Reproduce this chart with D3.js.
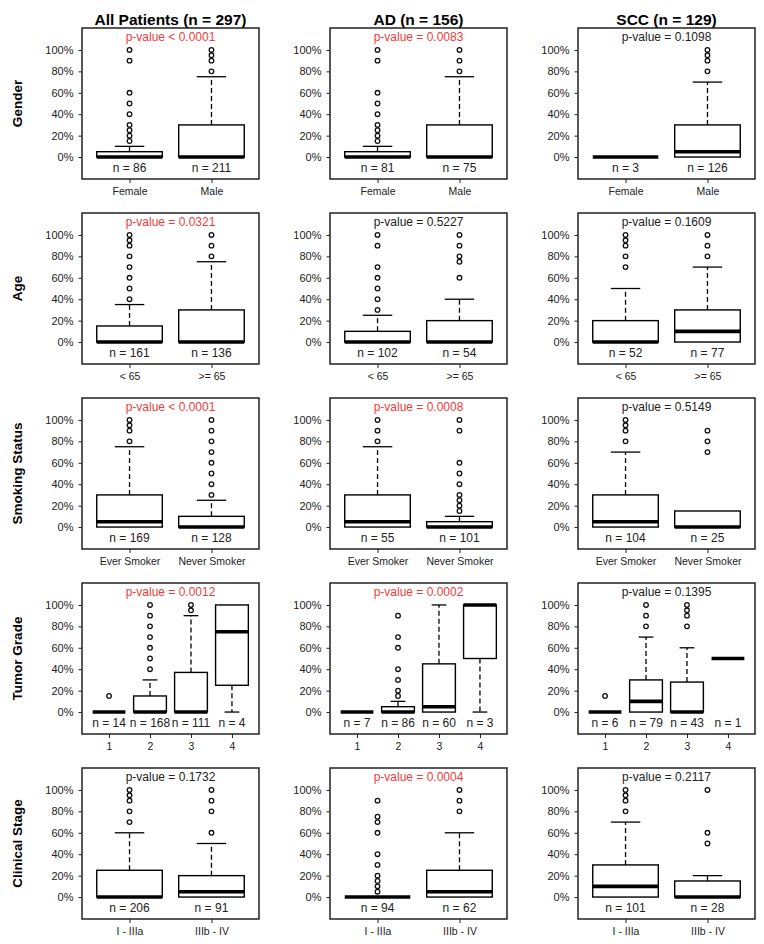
<!DOCTYPE html>
<html><head><meta charset="utf-8">
<script src="https://cdn.jsdelivr.net/npm/d3@7"></script>
<style>
html,body{margin:0;padding:0;background:#fff;}
svg text{font-family:"Liberation Sans",Arial,Helvetica,sans-serif;}
</style></head>
<body>
<svg id="chart" width="764" height="944"></svg>
<script>
// ---------- data ----------
const colTitles = ["All Patients (n = 297)", "AD (n = 156)", "SCC (n = 129)"];
const rowLabels = ["Gender", "Age", "Smoking Status", "Tumor Grade", "Clinical Stage"];
const categories = [
  ["Female", "Male"],
  ["< 65", ">= 65"],
  ["Ever Smoker", "Never Smoker"],
  ["1", "2", "3", "4"],
  ["I - IIIa", "IIIb - IV"]
];
const yTicks = [0, 20, 40, 60, 80, 100];

const pValues = [
  ["p-value < 0.0001", "p-value = 0.0083", "p-value = 0.1098"],
  ["p-value = 0.0321", "p-value = 0.5227", "p-value = 0.1609"],
  ["p-value < 0.0001", "p-value = 0.0008", "p-value = 0.5149"],
  ["p-value = 0.0012", "p-value = 0.0002", "p-value = 0.1395"],
  ["p-value = 0.1732", "p-value = 0.0004", "p-value = 0.2117"]
];
const pSignificant = [
  [true, true, false],
  [true, false, false],
  [true, true, false],
  [true, true, false],
  [false, true, false]
];
const nCounts = [
  [[86, 211], [81, 75], [3, 126]],
  [[161, 136], [102, 54], [52, 77]],
  [[169, 128], [55, 101], [104, 25]],
  [[14, 168, 111, 4], [7, 86, 60, 3], [6, 79, 43, 1]],
  [[206, 91], [94, 62], [101, 28]]
];
// [lower whisker, Q1, median, Q3, upper whisker] in %
const boxStats = [
  [ [[0,0,0,5,10],[0,0,0,30,75]], [[0,0,0,5,10],[0,0,0,30,75]], [[0,0,0,0,0],[0,0,5,30,70]] ],
  [ [[0,0,0,15,35],[0,0,0,30,75]], [[0,0,0,10,25],[0,0,0,20,40]], [[0,0,0,20,50],[0,0,10,30,70]] ],
  [ [[0,0,5,30,75],[0,0,0,10,25]], [[0,0,5,30,75],[0,0,0,5,10]], [[0,0,5,30,70],[0,0,0,15,15]] ],
  [ [[0,0,0,0,0],[0,0,0,15,30],[0,0,0,37,90],[0,25,75,100,100]],
    [[0,0,0,0,0],[0,0,0,5,10],[0,0,5,45,100],[0,50,100,100,100]],
    [[0,0,0,0,0],[0,0,10,30,70],[0,0,0,28,60],[50,50,50,50,50]] ],
  [ [[0,0,0,25,60],[0,0,5,20,50]], [[0,0,0,0,0],[0,0,5,25,60]], [[0,0,10,30,70],[0,0,0,15,20]] ]
];
const outliers = [
  [ [[15,20,25,30,40,50,60,90,100],[80,90,95,100]], [[15,20,25,30,40,50,60,90,100],[80,90,100]], [[],[80,90,95,100]] ],
  [ [[40,50,60,70,80,90,95,100],[80,90,100]], [[30,40,50,60,70,90,100],[60,75,80,90,100]], [[70,80,90,95,100],[80,90,100]] ],
  [ [[80,90,95,100],[30,40,50,60,70,80,90,100]], [[80,90,100],[15,20,25,30,40,50,60,90,100]], [[80,90,95,100],[70,80,90]] ],
  [ [[15],[40,50,60,70,80,90,100],[95,100],[]], [[],[15,20,30,40,60,70,90],[],[]], [[15],[80,90,100],[80,90,95,100],[]] ],
  [ [[70,80,90,95,100],[60,80,90,100]], [[5,10,15,20,30,40,60,70,75,90],[80,90,100]], [[80,90,95,100],[50,60,100]] ]
];

// ---------- layout ----------
const colLeft = [82, 330, 578];
const rowTop = [28, 213, 398, 583, 768];
const panelW = 177, panelH = 151;
const textCol = "#222";
const redCol = "#f03c3c";

const svg = d3.select("#chart");

colTitles.forEach((t, c) => {
  svg.append("text")
    .attr("x", colLeft[c] + panelW / 2).attr("y", 25)
    .attr("text-anchor", "middle")
    .attr("font-size", 15.5).attr("font-weight", "bold").attr("fill", "#000")
    .text(t);
});

rowLabels.forEach((lab, r) => {
  const cy = rowTop[r] + panelH / 2;
  svg.append("text")
    .attr("transform", `translate(22,${cy}) rotate(-90)`)
    .attr("text-anchor", "middle")
    .attr("font-size", 13.5).attr("font-weight", "bold").attr("fill", "#000")
    .text(lab);
});

for (let r = 0; r < rowLabels.length; r++) {
  const cats = categories[r];
  const k = cats.length;
  for (let c = 0; c < colTitles.length; c++) {
    const g = svg.append("g").attr("transform", `translate(${colLeft[c]},${rowTop[r]})`);
    const y = d3.scaleLinear().domain([-20.5, 120.5]).range([panelH, 0]);
    const ext = 0.04 * k;
    const x = d3.scaleLinear().domain([0.5 - ext, k + 0.5 + ext]).range([0, panelW]);
    const unit = x(1) - x(0);
    const bw = 0.8 * unit;
    const capW = 0.45 * bw;

    // y axis
    const yAxis = d3.axisLeft(y).tickValues(yTicks).tickSize(3.5).tickPadding(5)
      .tickFormat(d => d + "%");
    const ya = g.append("g").call(yAxis);
    ya.select(".domain").remove();
    ya.selectAll("line").attr("stroke", "#222").attr("stroke-width", 1);
    ya.selectAll("text").attr("font-size", 11).attr("fill", textCol)
      .attr("font-family", '"Liberation Sans",Arial,sans-serif');

    // x axis
    const xAxis = d3.axisBottom(x).tickValues(d3.range(1, k + 1)).tickSize(4).tickPadding(5)
      .tickFormat(d => cats[d - 1]);
    const xa = g.append("g").attr("transform", `translate(0,${panelH})`).call(xAxis);
    xa.select(".domain").remove();
    xa.selectAll("line").attr("stroke", "#222").attr("stroke-width", 1);
    xa.selectAll("text").attr("font-size", 10.5).attr("fill", textCol)
      .attr("font-family", '"Liberation Sans",Arial,sans-serif');

    // boxes
    boxStats[r][c].forEach((s, i) => {
      const cx = x(i + 1);
      const [lo, q1, med, q3, hi] = s;
      if (hi > q3) {
        g.append("line").attr("x1", cx).attr("x2", cx).attr("y1", y(q3)).attr("y2", y(hi))
          .attr("stroke", "#000").attr("stroke-width", 1.3).attr("stroke-dasharray", "5,3");
        g.append("line").attr("x1", cx - capW / 2).attr("x2", cx + capW / 2).attr("y1", y(hi)).attr("y2", y(hi))
          .attr("stroke", "#000").attr("stroke-width", 1.3);
      }
      if (lo < q1) {
        g.append("line").attr("x1", cx).attr("x2", cx).attr("y1", y(q1)).attr("y2", y(lo))
          .attr("stroke", "#000").attr("stroke-width", 1.3).attr("stroke-dasharray", "5,3");
        g.append("line").attr("x1", cx - capW / 2).attr("x2", cx + capW / 2).attr("y1", y(lo)).attr("y2", y(lo))
          .attr("stroke", "#000").attr("stroke-width", 1.3);
      }
      g.append("rect").attr("x", cx - bw / 2).attr("width", bw)
        .attr("y", y(q3)).attr("height", y(q1) - y(q3))
        .attr("fill", "#fff").attr("stroke", "#000").attr("stroke-width", 1.4);
      g.append("line").attr("x1", cx - bw / 2).attr("x2", cx + bw / 2).attr("y1", y(med)).attr("y2", y(med))
        .attr("stroke", "#000").attr("stroke-width", 3.6);
      outliers[r][c][i].forEach(v => {
        g.append("circle").attr("cx", cx).attr("cy", y(v)).attr("r", 2.3)
          .attr("fill", "none").attr("stroke", "#111").attr("stroke-width", 1.3);
      });
      g.append("text").attr("x", cx).attr("y", panelH - 7)
        .attr("text-anchor", "middle").attr("font-size", 12).attr("fill", textCol)
        .text("n = " + nCounts[r][c][i]);
    });

    // p-value
    g.append("text").attr("x", panelW / 2).attr("y", 13)
      .attr("text-anchor", "middle").attr("font-size", 12)
      .attr("fill", pSignificant[r][c] ? redCol : textCol)
      .text(pValues[r][c]);

    // frame
    g.append("rect").attr("x", 0).attr("y", 0).attr("width", panelW).attr("height", panelH)
      .attr("fill", "none").attr("stroke", "#222").attr("stroke-width", 1.5);
  }
}
</script>
</body></html>
